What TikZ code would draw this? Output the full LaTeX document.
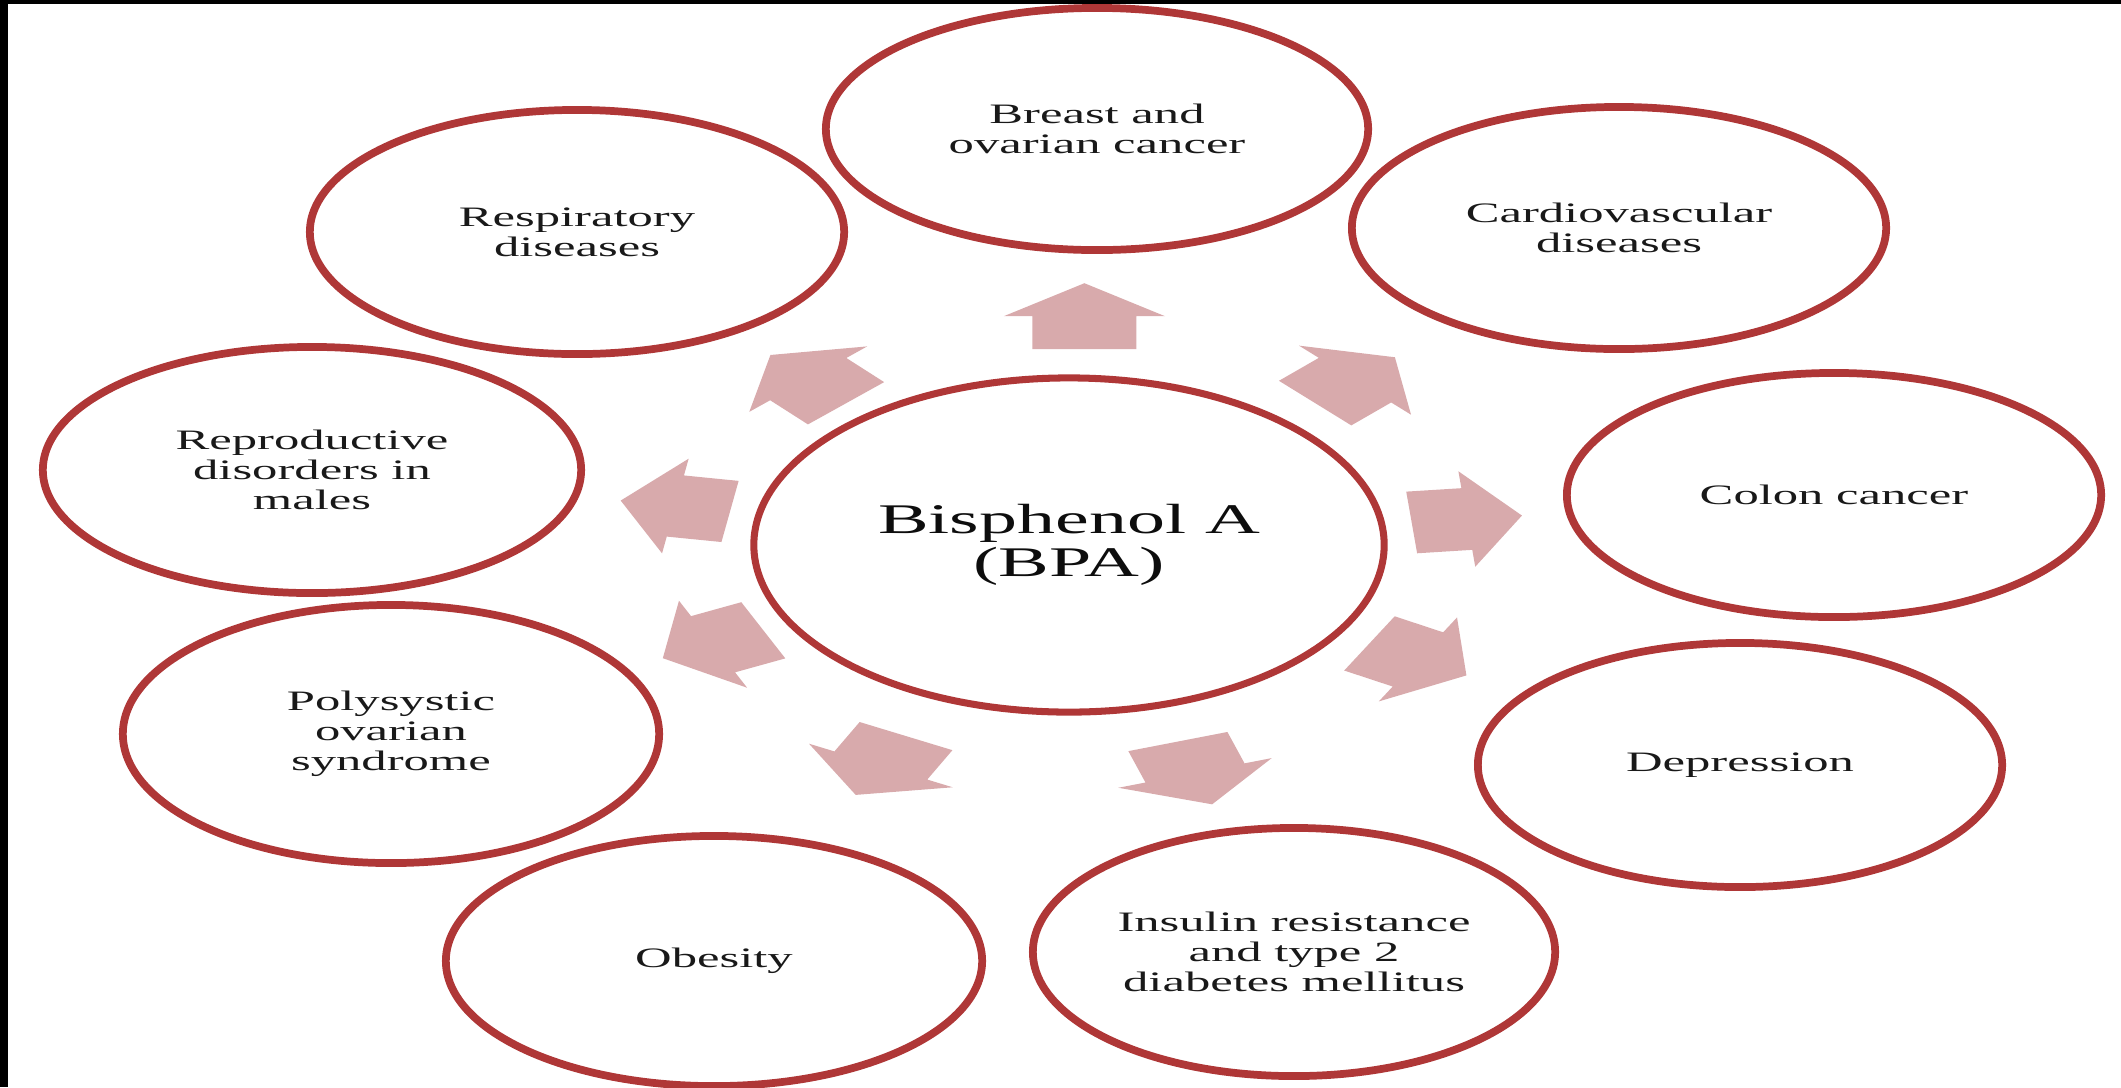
\documentclass[tikz,border=0pt]{standalone}
\usepackage{fontspec}
\setmainfont{Liberation Serif}[FakeStretch=1.8]
\usetikzlibrary{shapes.geometric,calc}
\definecolor{R}{RGB}{175, 55, 55}
\definecolor{P}{RGB}{216, 170, 172}
\tikzset{
  disease/.style={ellipse, draw=R, line width=2.2pt, minimum width=5.34cm,
    minimum height=2.44cm, inner sep=0pt, align=center, text=black!90,
    font=\fontsize{8}{8.6}\selectfont},
  source/.style={disease, line width=2pt, minimum width=6.3cm, minimum height=3.34cm,
    text=black!95, font=\fontsize{12}{12.2}\selectfont},
  fatarrow/.style={fill=P}
}

\begin{document}
\begin{tikzpicture}[x=0.01cm, y=-0.01cm]
  \useasboundingbox (0,0) rectangle (2121,1087);
  \fill[black] (0,0) rectangle (8,1087);
  \fill[black] (0,0) rectangle (2121,4);

  \node[source] (bpa) at (1069,545) {Bisphenol A\\(BPA)};

  \node[disease, minimum width=5.42cm, minimum height=2.42cm] (breast) at (1097,129) {Breast and\\ovarian cancer};
  \node[disease] (resp) at (577,232) {Respiratory\\diseases};
  \node[disease, minimum height=2.42cm] (cardio) at (1619,228) {Cardiovascular\\diseases};
  \node[disease, minimum width=5.38cm, minimum height=2.46cm] (repro) at (312,470) {Reproductive\\disorders in\\males};
  \node[disease] (colon) at (1834,495) {Colon cancer};
  \node[disease, minimum width=5.36cm, minimum height=2.58cm] (poly) at (391,734) {Polysystic\\ovarian\\syndrome};
  \node[disease, minimum width=5.24cm] (depr) at (1740,765) {Depression};
  \node[disease, minimum width=5.36cm, minimum height=2.5cm] (obes) at (714,961) {Obesity};
  \node[disease, minimum width=5.22cm, minimum height=2.48cm] (insulin) at (1294,952) {Insulin resistance\\and type 2\\diabetes mellitus};

  \foreach \tgt/\ang/\pos in {breast/90/.55, resp/133/.53, repro/170.5/.52,
      poly/205/.525, obes/243/.53, insulin/288/.56, depr/-29/.52,
      colon/6/.52, cardio/44/.52}{
    \coordinate (a-\tgt) at ($(bpa.center)!\pos!(\tgt.center)$);
    \fill[fatarrow, shift={(a-\tgt)}, xscale=1.68, rotate=\ang]
      (-33,-31) -- (0,-31) -- (0,-48) -- (33,0) -- (0,48) -- (0,31) -- (-33,31) -- cycle;
  }
\end{tikzpicture}
\end{document}
